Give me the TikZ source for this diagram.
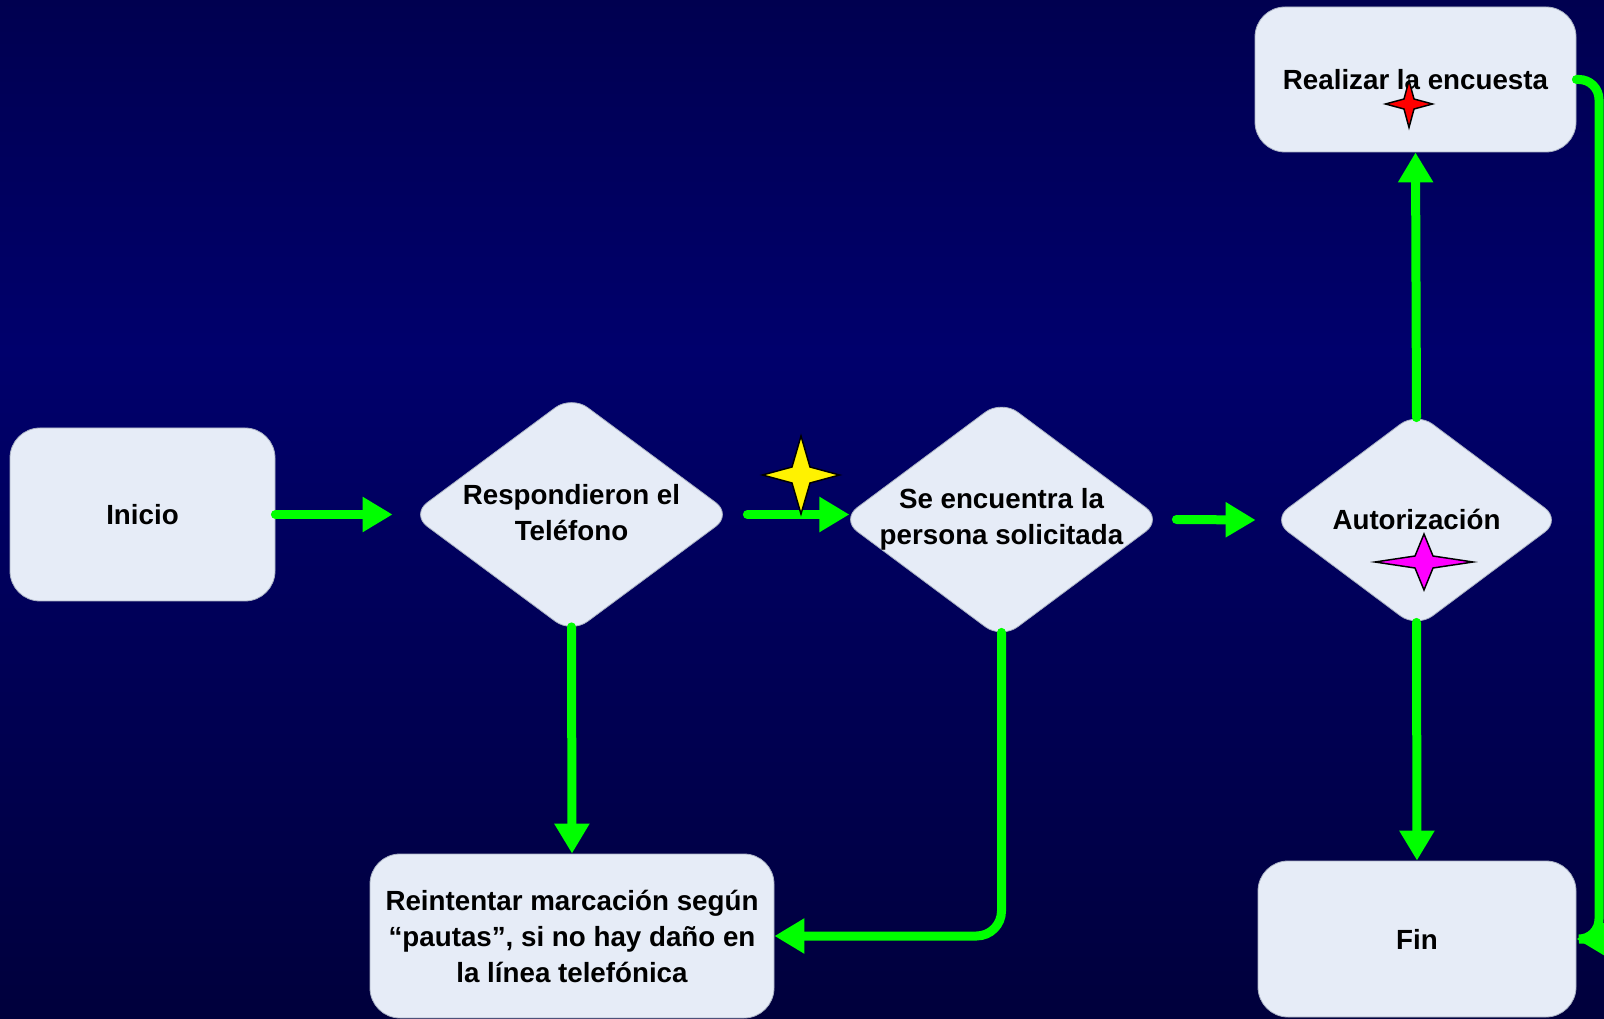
\documentclass[tikz,border=0pt]{standalone}
\usepackage{fontspec}
\setmainfont{Liberation Sans}
\usetikzlibrary{shapes.geometric,arrows.meta}
\definecolor{bgtop}{RGB}{0,0,80}
\definecolor{bgmid}{RGB}{0,0,108}
\definecolor{bgbot}{RGB}{0,0,60}
\definecolor{boxfill}{RGB}{230,236,247}
\definecolor{boxline}{RGB}{170,178,196}
\definecolor{flowgreen}{RGB}{0,255,0}
\definecolor{starmag}{RGB}{255,0,255}
% #1 centre, #2 half width, #3 half height, #4 waist x, #5 waist y, #6 colour
\newcommand\quadstar[6]{%
  \draw[shift={(#1)}, fill=#6, draw=black, line width=1.1pt, line join=miter]
    (#2,0) -- (#4,#5) -- (0,#3) -- (-#4,#5) -- (-#2,0) -- (-#4,-#5) -- (0,-#3) -- (#4,-#5) -- cycle;}
\begin{document}
\begin{tikzpicture}[x=0.75pt,y=-0.75pt,
  txtfont/.style={font=\fontsize{20.8}{27}\selectfont\bfseries, text=black},
  boxn/.style={rectangle, rounded corners=22.5pt, fill=boxfill, draw=boxline, line width=0.6pt,
    align=center, inner sep=0pt, txtfont},
  dia/.style={diamond, rounded corners=15pt, fill=boxfill, draw=boxline, line width=0.6pt, inner sep=0pt},
  txt/.style={align=center, inner sep=0pt, txtfont},
  flow/.style={draw=flowgreen, line width=6.75pt, line cap=round,
    -{Triangle[length=22.5pt,width=25pt]}},
]
\useasboundingbox (0,0) rectangle (1604,1019);
\shade[top color=bgtop, bottom color=bgmid] (0,0) rectangle (1604,351);
\shade[top color=bgmid, bottom color=bgbot] (0,350) rectangle (1604,1019);

% nodes
\node[boxn, minimum width=198.75pt, minimum height=129.75pt] (inicio) at (142.5,514.5) {Inicio};
\node[dia, minimum width=240.75pt, minimum height=178.5pt] (resp) at (571.5,514.5) {};
\node[txt] (resptxt) at (571.5,513) {Respondieron el\\Teléfono};
\node[dia, minimum width=240.75pt, minimum height=179.25pt] (se) at (1001.5,519.5) {};
\node[txt] (setxt) at (1001.5,519) {Se encuentra la\\persona solicitada};
\node[dia, minimum width=216.75pt, minimum height=162pt] (aut) at (1416.5,520) {};
\node[txt] (auttxt) at (1416.5,519) {Autorización};
\node[boxn, minimum width=240.75pt, minimum height=108.75pt] (real) at (1415.5,79.5) {Realizar la encuesta};
\node[boxn, minimum width=238.5pt, minimum height=117pt] (fin) at (1417,939) {Fin};
\node[boxn, minimum width=303pt, minimum height=123pt] (reint) at (572,936)
  {Reintentar marcación según\\“pautas”, si no hay daño en\\la línea telefónica};

% connectors
\draw[flow] (inicio.east) -- ([xshift=-13.5pt]resp.west);
\draw[flow] ([xshift=11.25pt]resp.east) -- ([xshift=11.25pt+76.5pt]resp.east);
\draw[flow] ([xshift=10.5pt]se.east) -- ([xshift=-12pt]aut.west);
\draw[flow] ([yshift=-4.5pt]aut.north) -- (real.south);
\draw[flow] ([yshift=4.5pt]aut.south) -- (fin.north);
\draw[flow] ([yshift=5.25pt]resp.south) -- (reint.north);
\draw[flow, rounded corners=18.75pt] ([yshift=5.25pt]se.south) |- (reint.east);
\coordinate (loopR) at (1599,79.5);
\draw[flow, rounded corners=15pt] (real.east) -- (loopR) |- (fin.east);

% stars
\quadstar{801,475}{38.5}{39}{9}{8}{yellow}
\quadstar{1409,104}{23.5}{23.5}{5}{5}{red}
\quadstar{1424,562}{49}{28}{9}{6}{starmag}
\end{tikzpicture}
\end{document}
